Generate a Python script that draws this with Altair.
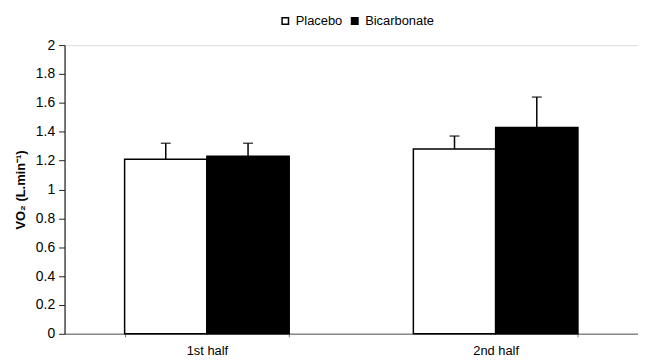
import altair as alt
import pandas as pd

periods = ["1st half", "2nd half"]
treatments = ["Placebo", "Bicarbonate"]
placebo_vals = [1.21, 1.28]
placebo_err = [0.11, 0.09]
bicarb_vals = [1.23, 1.43]
bicarb_err = [0.09, 0.21]
y_ticks = [0, 0.2, 0.4, 0.6, 0.8, 1.0, 1.2, 1.4, 1.6, 1.8, 2.0]

rows = []
for i, p in enumerate(periods):
    rows.append({"period": p, "treatment": "Placebo", "value": placebo_vals[i],
                 "upper": placebo_vals[i] + placebo_err[i]})
    rows.append({"period": p, "treatment": "Bicarbonate", "value": bicarb_vals[i],
                 "upper": bicarb_vals[i] + bicarb_err[i]})
df = pd.DataFrame(rows)

FONT = "Liberation Sans"

x_axis = alt.Axis(labelAngle=0, labelFontSize=13, labelColor="black",
                  labelFont=FONT, tickBand="extent", ticks=True,
                  tickSize=3, tickColor="#777", domainColor="#888",
                  domainWidth=1.5, labelPadding=8, labelOverlap=False)
x_scale = alt.Scale(paddingInner=0.43, paddingOuter=0.208)
y_axis = alt.Axis(values=y_ticks, format=".1~f", grid=False, tickCount=11,
                  labelFontSize=14, labelFont=FONT, labelColor="black",
                  labelOverlap=False,
                  tickSize=6, tickColor="#222", domainColor="#222",
                  domainWidth=1.2, labelPadding=4,
                  titleFont=FONT, titleFontSize=13, titleFontWeight="bold",
                  titleColor="black", titlePadding=8)
y_scale = alt.Scale(domain=[0, 2], nice=False)
xo_enc = alt.XOffset("treatment:N", sort=treatments,
                     scale=alt.Scale(paddingInner=0, paddingOuter=0))


def x_enc():
    return alt.X("period:N", sort=periods, title=None, scale=x_scale, axis=x_axis)


bars = alt.Chart(df).mark_bar(stroke="black", strokeWidth=1.5).encode(
    x=x_enc(),
    xOffset=xo_enc,
    y=alt.Y("value:Q", scale=y_scale, title="VO₂ (L.min⁻¹)", axis=y_axis),
    fill=alt.Fill("treatment:N", sort=treatments,
                  scale=alt.Scale(domain=treatments, range=["white", "black"]),
                  legend=alt.Legend(title=None, orient="none", direction="horizontal",
                                    legendX=216, legendY=-31,
                                    symbolType="square", symbolSize=42,
                                    symbolStrokeColor="black", symbolStrokeWidth=1.5,
                                    labelFont=FONT, labelFontSize=13,
                                    labelColor="black", labelOffset=4,
                                    columnPadding=6)),
)

rules = alt.Chart(df).mark_rule(color="black", strokeWidth=1.5).encode(
    x=x_enc(),
    xOffset=xo_enc,
    y=alt.Y("value:Q", scale=y_scale, title="VO₂ (L.min⁻¹)", axis=y_axis),
    y2="upper:Q",
)

caps = alt.Chart(df).mark_tick(color="black", thickness=1.5, size=10).encode(
    x=x_enc(),
    xOffset=xo_enc,
    y=alt.Y("upper:Q", scale=y_scale, title="VO₂ (L.min⁻¹)", axis=y_axis),
)

chart = alt.layer(bars, rules, caps).properties(
    width=578, height=291,
    autosize=alt.AutoSizeParams(type="none"),
    padding={"left": 57, "top": 36, "right": 0, "bottom": 25},
).configure_view(stroke=None).configure(background="white")

chart.save("out.html", embed_options={"renderer": "svg", "actions": False})
